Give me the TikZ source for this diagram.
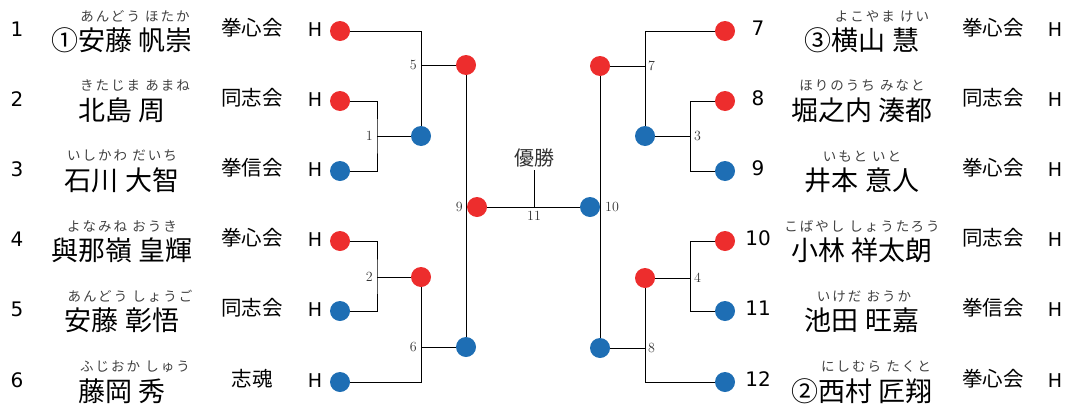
\documentclass[tikz,border=0pt]{standalone}
\usepackage{fontspec}
\usetikzlibrary{positioning}
\newfontfamily\jpfont{Noto Sans CJK JP}
\newfontfamily\furifont[LetterSpace=15]{Noto Sans CJK JP}
\newfontfamily\numfont{DejaVu Sans}
\definecolor{winred}{RGB}{237,45,45}
\definecolor{winblue}{RGB}{30,110,180}
\tikzset{
  redpt/.style={circle, fill=winred, minimum size=20pt, inner sep=0pt},
  bluept/.style={circle, fill=winblue, minimum size=20pt, inner sep=0pt},
  seed/.style={font=\numfont\fontsize{20}{20}\selectfont, inner sep=0pt},
  furi/.style={font=\furifont\fontsize{13.5}{13.5}\selectfont, text=black!75, inner sep=0pt},
  pname/.style={font=\jpfont\fontsize{27}{27}\selectfont, inner sep=0pt},
  club/.style={font=\jpfont\fontsize{20.5}{20.5}\selectfont, inner sep=0pt},
  hlet/.style={font=\numfont\fontsize{19}{19}\selectfont, inner sep=0pt},
  mlabel/.style={font=\fontsize{14}{14}\selectfont, text=black!80, inner sep=0pt},
  bline/.style={line width=0.9pt}
}
\begin{document}
\begin{tikzpicture}[x=1pt, y=-1pt]
    \useasboundingbox (0,0) rectangle (1070,407);

    % left block
    \node[seed] (s1) at (17,29) {1};
    \node[furi] (f1) at (135,16) {あんどう ほたか};
    \node[pname] (n1) at (122,40) {①安藤 帆崇};
    \node[club] (c1) at (252,28) {拳心会};
    \node[hlet] (h1) at (315,30) {H};
    \node[redpt] (L1) at (340,31) {};

    \node[seed] (s2) at (17,99) {2};
    \node[furi] (f2) at (135,86) {きたじま あまね};
    \node[pname] (n2) at (122,110) {北島 周};
    \node[club] (c2) at (252,98) {同志会};
    \node[hlet] (h2) at (315,100) {H};
    \node[redpt] (L2) at (340,101) {};

    \node[seed] (s3) at (17,169) {3};
    \node[furi] (f3) at (122,156) {いしかわ だいち};
    \node[pname] (n3) at (122,180) {石川 大智};
    \node[club] (c3) at (252,168) {拳信会};
    \node[hlet] (h3) at (315,170) {H};
    \node[bluept] (L3) at (340,171) {};

    \node[seed] (s4) at (17,239) {4};
    \node[furi] (f4) at (122,226) {よなみね おうき};
    \node[pname] (n4) at (122,250) {與那嶺 皇輝};
    \node[club] (c4) at (252,238) {拳心会};
    \node[hlet] (h4) at (315,240) {H};
    \node[redpt] (L4) at (340,241) {};

    \node[seed] (s5) at (17,309) {5};
    \node[furi] (f5) at (130,296) {あんどう しょうご};
    \node[pname] (n5) at (122,320) {安藤 彰悟};
    \node[club] (c5) at (252,308) {同志会};
    \node[hlet] (h5) at (315,310) {H};
    \node[bluept] (L5) at (340,311) {};

    \node[seed] (s6) at (17,380) {6};
    \node[furi] (f6) at (135,367) {ふじおか しゅう};
    \node[pname] (n6) at (122,391) {藤岡 秀};
    \node[club] (c6) at (252,379) {志魂};
    \node[hlet] (h6) at (315,381) {H};
    \node[bluept] (L6) at (340,382) {};

    % right block
    \node[redpt] (R7) at (725,31) {};
    \node[seed] (s7) at (758,28) {7};
    \node[furi] (f7) at (882,16) {よこやま けい};
    \node[pname] (n7) at (862,40) {③横山 慧};
    \node[club] (c7) at (993,28) {拳心会};
    \node[hlet] (h7) at (1055,30) {H};

    \node[redpt] (R8) at (725,101) {};
    \node[seed] (s8) at (758,98) {8};
    \node[furi] (f8) at (862,86) {ほりのうち みなと};
    \node[pname] (n8) at (862,110) {堀之内 湊都};
    \node[club] (c8) at (993,98) {同志会};
    \node[hlet] (h8) at (1055,100) {H};

    \node[bluept] (R9) at (725,171) {};
    \node[seed] (s9) at (758,168) {9};
    \node[furi] (f9) at (862,156) {いもと いと};
    \node[pname] (n9) at (862,180) {井本 意人};
    \node[club] (c9) at (993,168) {拳心会};
    \node[hlet] (h9) at (1055,170) {H};

    \node[redpt] (R10) at (725,241) {};
    \node[seed] (s10) at (758,238) {10};
    \node[furi] (f10) at (862,226) {こばやし しょうたろう};
    \node[pname] (n10) at (862,250) {小林 祥太朗};
    \node[club] (c10) at (993,238) {同志会};
    \node[hlet] (h10) at (1055,240) {H};

    \node[bluept] (R11) at (725,311) {};
    \node[seed] (s11) at (758,308) {11};
    \node[furi] (f11) at (864,296) {いけだ おうか};
    \node[pname] (n11) at (862,320) {池田 旺嘉};
    \node[club] (c11) at (993,308) {拳信会};
    \node[hlet] (h11) at (1055,310) {H};

    \node[bluept] (R12) at (725,382) {};
    \node[seed] (s12) at (758,379) {12};
    \node[furi] (f12) at (876,367) {にしむら たくと};
    \node[pname] (n12) at (862,391) {②西村 匠翔};
    \node[club] (c12) at (993,379) {拳心会};
    \node[hlet] (h12) at (1055,381) {H};

    % winners
    \node[bluept] (W1) at (421,136) {};
    \node[redpt] (W2) at (421,277) {};
    \node[redpt] (W5) at (466,65) {};
    \node[bluept] (W6) at (466,347) {};
    \node[bluept] (E3) at (645,136) {};
    \node[redpt] (E4) at (645,278) {};
    \node[redpt] (E7) at (600,66) {};
    \node[bluept] (E8) at (600,348) {};
    \node[redpt] (F9) at (477,207) {};
    \node[bluept] (F10) at (590,207) {};

    % left bracket
    \coordinate (k1) at (377,136);
    \draw[bline] (L2) -| (k1) |- (L3);
    \draw[bline] (k1) -- (W1);
    \node[mlabel, left=4pt of k1] (m1) {1};

    \coordinate (k2) at (377,277);
    \draw[bline] (L4) -| (k2) |- (L5);
    \draw[bline] (k2) -- (W2);
    \node[mlabel, left=4pt of k2] (m2) {2};

    \draw[bline] (L1) -| (W1);
    \coordinate (k5) at (W1 |- W5);
    \draw[bline] (k5) -- (W5);
    \node[mlabel, left=4pt of k5] (m5) {5};

    \draw[bline] (L6) -| (W2);
    \coordinate (k6) at (W2 |- W6);
    \draw[bline] (k6) -- (W6);
    \node[mlabel, left=4pt of k6] (m6) {6};

    \draw[bline] (W5) -- (W6);
    \coordinate (k9) at (W5 |- F9);
    \node[mlabel, left=3pt of k9] (m9) {9};

    % right bracket
    \coordinate (k3) at (690,136);
    \draw[bline] (R8) -| (k3) |- (R9);
    \draw[bline] (k3) -- (E3);
    \node[mlabel, right=4pt of k3] (m3) {3};

    \coordinate (k4) at (690,278);
    \draw[bline] (R10) -| (k4) |- (R11);
    \draw[bline] (k4) -- (E4);
    \node[mlabel, right=4pt of k4] (m4) {4};

    \draw[bline] (R7) -| (E3);
    \coordinate (k7) at (E3 |- E7);
    \draw[bline] (k7) -- (E7);
    \node[mlabel, right=3pt of k7] (m7) {7};

    \draw[bline] (R12) -| (E4);
    \coordinate (k8) at (E4 |- E8);
    \draw[bline] (k8) -- (E8);
    \node[mlabel, right=3pt of k8] (m8) {8};

    \draw[bline] (E7) -- (E8);
    \coordinate (k10) at (E7 |- F10);
    \node[mlabel, right=5pt of k10] (m10) {10};

    % final
    \draw[bline] (F9) -- (F10);
    \node[font=\jpfont\fontsize{20}{20}\selectfont, text=black!80, inner sep=3pt] (win) at (534,158) {優勝};
    \draw[bline] (win.south) -- (win.south |- F9);
    \node[mlabel, below=4pt of win.south |- F9] (m11) {11};
\end{tikzpicture}
\end{document}
